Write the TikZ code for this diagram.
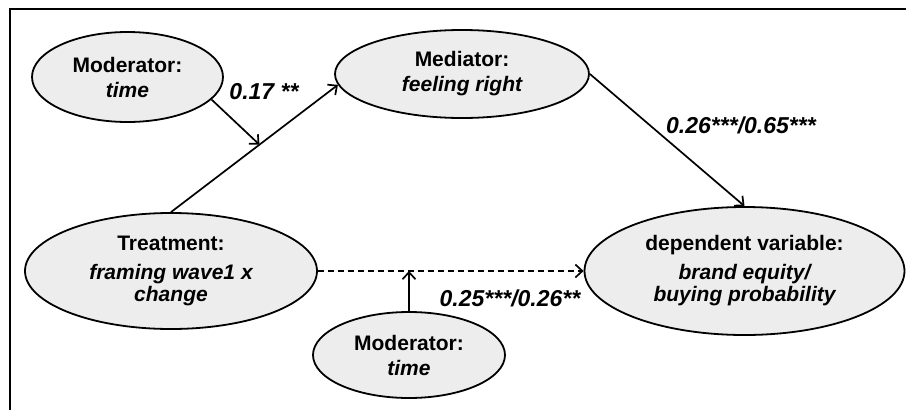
\documentclass[tikz,border=0pt]{standalone}
\usepackage{fontspec}
\setmainfont{Liberation Sans}
\usetikzlibrary{arrows.meta,shapes.geometric}
\begin{document}
\begin{tikzpicture}[x=1pt,y=-1pt,
  oval/.style={ellipse,draw=black,line width=1.8pt,fill=black!7,inner sep=0pt,
    align=center,font=\fontsize{21}{22}\selectfont\bfseries},
  conn/.style={line width=1.7pt,-{Straight Barb[length=7pt,width=13pt,line width=1.7pt]}},
  lbl/.style={font=\fontsize{23}{24}\selectfont\bfseries\itshape,inner sep=0pt}]
\useasboundingbox (0,0) rectangle (906,410);
\draw[line width=2.8pt] (10,410) -- (10,9) -- (906,9);

\node[oval,minimum width=191pt,minimum height=90pt] (modA) at (127.5,77) {Moderator:\\[3pt]\itshape time};
\node[oval,minimum width=254pt,minimum height=88pt] (med) at (462,74) {Mediator:\\[3pt]\itshape feeling right};
\node[oval,minimum width=292pt,minimum height=116pt] (treat) at (171,271) {Treatment:\\[7pt]\itshape framing wave1 x\\\itshape change};
\node[oval,minimum width=320pt,minimum height=128pt] (dep) at (744.5,271) {dependent variable:\\[7pt]\itshape brand equity/\\\itshape buying probability};
\node[oval,minimum width=192pt,minimum height=86pt] (modB) at (409,355) {Moderator:\\[3pt]\itshape time};

\path (treat.north) -- (med.185) coordinate[pos=0.53] (m1);
\draw[conn] (treat.north) -- (med.185);
\draw[conn] (modA.-15) -- (m1);
\draw[conn] (med.east) -- (dep.north);
\draw[conn,dashed,dash pattern=on 6pt off 4pt] (treat.east) -- (dep.west);
\coordinate (m2) at (modB.north |- treat.east);
\draw[conn] (modB.north) -- (m2);

\node[lbl] (l1) at (264,92) {0.17 **};
\node[lbl] (l2) at (741,125) {0.26***/0.65***};
\node[lbl] (l3) at (510,298) {0.25***/0.26**};
\end{tikzpicture}
\end{document}
